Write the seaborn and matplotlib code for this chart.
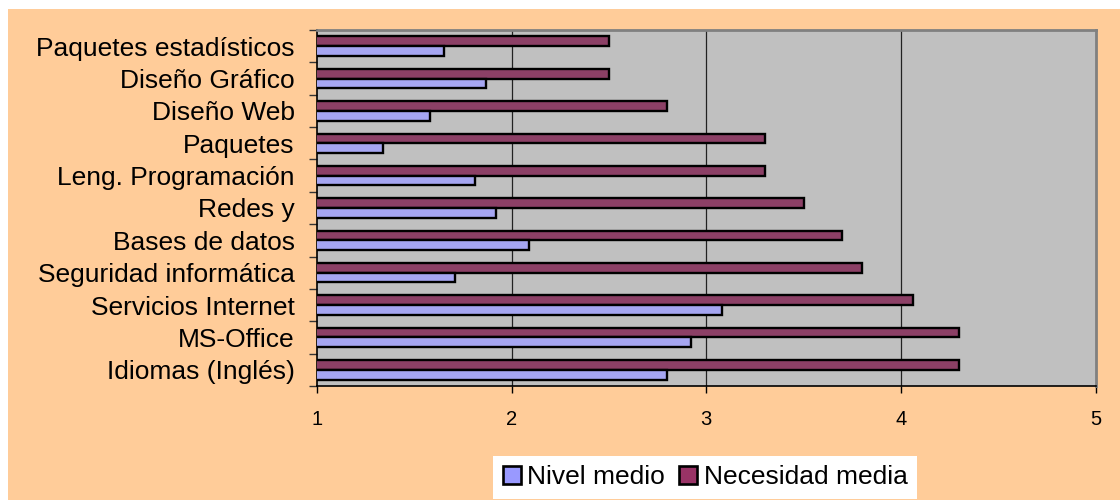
import matplotlib
matplotlib.use("Agg")
import matplotlib.pyplot as plt
from matplotlib.patches import Rectangle, Patch
from matplotlib.ticker import FixedLocator
import numpy as np
import pandas as pd
import seaborn as sns

categories = [
    "Paquetes estadísticos", "Diseño Gráfico", "Diseño Web", "Paquetes",
    "Leng. Programación", "Redes y", "Bases de datos", "Seguridad informática",
    "Servicios Internet", "MS-Office", "Idiomas (Inglés)",
]
necesidad_media = [2.50, 2.50, 2.80, 3.30, 3.30, 3.50, 3.70, 3.80, 4.06, 4.30, 4.30]
nivel_medio = [1.65, 1.87, 1.58, 1.34, 1.81, 1.92, 2.09, 1.71, 3.08, 2.92, 2.80]
series_names = ["Necesidad media", "Nivel medio"]
x_ticks = [1, 2, 3, 4, 5]

colors = {"Necesidad media": "#993366", "Nivel medio": "#9999FF"}

sns.set_theme(style="white")
plt.rcParams["font.family"] = ["Liberation Sans", "DejaVu Sans"]
plt.rcParams["text.color"] = "black"
plt.rcParams["axes.labelcolor"] = "black"
plt.rcParams["xtick.color"] = "black"
plt.rcParams["ytick.color"] = "black"

df = pd.DataFrame({
    "categoria": categories * 2,
    "valor": necesidad_media + nivel_medio,
    "serie": [series_names[0]] * len(categories) + [series_names[1]] * len(categories),
})

fig = plt.figure(figsize=(11.2, 5.0), dpi=100, facecolor="white")
# peach chart area with a thin white margin on the top and left
fig.patches.append(Rectangle((8 / 1120, 0), 1, 491 / 500, transform=fig.transFigure,
                             facecolor="#FFCC99", edgecolor="none", zorder=-10))

ax = fig.add_axes([317 / 1120, 1 - 386 / 500, (1095.5 - 317) / 1120, (386 - 30) / 500])
ax.set_facecolor("#C0C0C0")

sns.barplot(data=df, y="categoria", x="valor", hue="serie", hue_order=series_names,
            order=categories, palette=colors, orient="h", width=0.6, gap=0,
            edgecolor="black", linewidth=1.7, legend=False, ax=ax, zorder=3)

ax.set_xlim(1, 5)
ax.set_ylim(len(categories) - 0.5, -0.5)
ax.set_xlabel("")
ax.set_ylabel("")

ax.set_xticks(x_ticks)
ax.set_xticklabels([str(t) for t in x_ticks], fontsize=14.5, color="black")
ax.tick_params(axis="x", direction="out", length=5, width=1, color="black",
               pad=12, bottom=True)

ax.tick_params(axis="y", which="major", length=0, pad=16, labelsize=19, labelcolor="black")
ax.yaxis.set_minor_locator(FixedLocator(np.arange(-0.5, len(categories), 1.0)))
ax.tick_params(axis="y", which="minor", direction="out", length=6, width=1,
               color="#333333", left=True)

for v in x_ticks[1:-1]:
    ax.axvline(v, color="#222222", linewidth=0.9, zorder=1)

for side in ("left", "bottom"):
    ax.spines[side].set_color("black")
    ax.spines[side].set_linewidth(1.2)
for side in ("top", "right"):
    ax.spines[side].set_color("#808080")
    ax.spines[side].set_linewidth(2)

handles = [Patch(facecolor=colors["Nivel medio"], edgecolor="black", linewidth=1.9),
           Patch(facecolor=colors["Necesidad media"], edgecolor="black", linewidth=1.9)]
leg = fig.legend(handles, ["Nivel medio", "Necesidad media"], loc="center",
                 bbox_to_anchor=(705.3 / 1120, 1 - 477.2 / 500), bbox_transform=fig.transFigure,
                 ncol=2, fontsize=19, frameon=True, fancybox=False, framealpha=1,
                 handlelength=0.68, handleheight=0.68, handletextpad=0.25,
                 columnspacing=0.55, borderpad=0.36, borderaxespad=0)
leg.get_frame().set_facecolor("white")
leg.get_frame().set_edgecolor("none")
for t in leg.get_texts():
    t.set_color("black")

fig.savefig("out.png", dpi=100, facecolor=fig.get_facecolor())
